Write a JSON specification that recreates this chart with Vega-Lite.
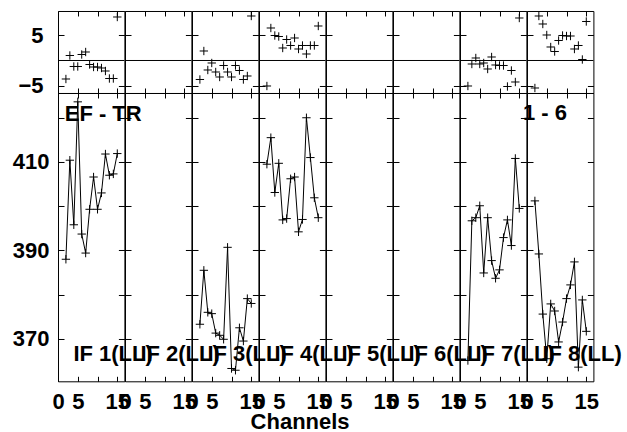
{
"$schema": "https://vega.github.io/schema/vega-lite/v6.json",
"padding": {"left": 12, "top": 9, "right": 2, "bottom": 0},
"data": {"values": [
{"if":1,"ch":2,"v":388.0,"r":-3.7},{"if":1,"ch":3,"v":410.4,"r":1.0},{"if":1,"ch":4,"v":395.8,"r":-1.2},{"if":1,"ch":5,"v":423.6,"r":-1.2},{"if":1,"ch":6,"v":393.7,"r":1.2},{"if":1,"ch":7,"v":389.4,"r":1.7},{"if":1,"ch":8,"v":399.3,"r":-0.8},{"if":1,"ch":9,"v":406.6,"r":-1.3},{"if":1,"ch":10,"v":399.3,"r":-1.3},{"if":1,"ch":11,"v":403.0,"r":-1.5},{"if":1,"ch":12,"v":411.8,"r":-2.1},{"if":1,"ch":13,"v":407.0,"r":-3.6},{"if":1,"ch":14,"v":407.3,"r":-3.6},{"if":1,"ch":15,"v":411.9,"r":8.7},
{"if":3,"ch":2,"v":373.3,"r":-3.8},{"if":3,"ch":3,"v":385.5,"r":1.9},{"if":3,"ch":4,"v":376.0,"r":-1.9},{"if":3,"ch":5,"v":375.7,"r":-0.5},{"if":3,"ch":6,"v":371.3,"r":-2.3},{"if":3,"ch":7,"v":370.8,"r":-3.3},{"if":3,"ch":8,"v":369.9,"r":-1.0},{"if":3,"ch":9,"v":390.7,"r":-2.3},{"if":3,"ch":10,"v":363.3,"r":-3.3},{"if":3,"ch":11,"v":362.9,"r":-1.0},{"if":3,"ch":12,"v":372.5,"r":-2.0},{"if":3,"ch":13,"v":369.5,"r":-3.8},{"if":3,"ch":14,"v":379.1,"r":-3.1},{"if":3,"ch":15,"v":378.0,"r":8.9},
{"if":4,"ch":2,"v":409.5,"r":-5.1},{"if":4,"ch":3,"v":415.5,"r":6.5},{"if":4,"ch":4,"v":403.1,"r":5.0},{"if":4,"ch":5,"v":409.7,"r":4.8},{"if":4,"ch":6,"v":396.9,"r":2.5},{"if":4,"ch":7,"v":397.2,"r":4.2},{"if":4,"ch":8,"v":406.2,"r":3.0},{"if":4,"ch":9,"v":406.6,"r":4.5},{"if":4,"ch":10,"v":394.2,"r":2.3},{"if":4,"ch":11,"v":397.0,"r":3.0},{"if":4,"ch":12,"v":420.0,"r":1.3},{"if":4,"ch":13,"v":411.0,"r":3.0},{"if":4,"ch":14,"v":401.9,"r":3.0},{"if":4,"ch":15,"v":397.4,"r":6.9},
{"if":7,"ch":2,"v":365.1,"r":-5.1},{"if":7,"ch":3,"v":396.7,"r":-0.7},{"if":7,"ch":4,"v":397.4,"r":0.5},{"if":7,"ch":5,"v":400.1,"r":-0.7},{"if":7,"ch":6,"v":384.9,"r":-0.5},{"if":7,"ch":7,"v":397.4,"r":-1.7},{"if":7,"ch":8,"v":387.7,"r":0.7},{"if":7,"ch":9,"v":383.7,"r":-0.9},{"if":7,"ch":10,"v":385.6,"r":-1.0},{"if":7,"ch":11,"v":392.9,"r":-1.0},{"if":7,"ch":12,"v":396.9,"r":-5.2},{"if":7,"ch":13,"v":391.1,"r":-2.0},{"if":7,"ch":14,"v":410.8,"r":-4.3},{"if":7,"ch":15,"v":399.5,"r":8.5},
{"if":8,"ch":2,"v":401.2,"r":-5.5},{"if":8,"ch":3,"v":389.2,"r":8.9},{"if":8,"ch":4,"v":375.6,"r":7.3},{"if":8,"ch":5,"v":365.5,"r":5.1},{"if":8,"ch":6,"v":377.9,"r":2.7},{"if":8,"ch":7,"v":376.3,"r":1.8},{"if":8,"ch":8,"v":369.3,"r":4.0},{"if":8,"ch":9,"v":373.8,"r":5.0},{"if":8,"ch":10,"v":379.1,"r":4.9},{"if":8,"ch":11,"v":382.2,"r":4.9},{"if":8,"ch":12,"v":387.4,"r":2.3},{"if":8,"ch":13,"v":363.6,"r":3.0},{"if":8,"ch":14,"v":378.8,"r":0.2},{"if":8,"ch":15,"v":371.7,"r":7.8}
]},
"title": {"text": "Channels", "orient": "bottom", "anchor": "middle", "font": "Liberation Sans", "fontSize": 22, "fontWeight": "bold", "color": "black", "offset": 0, "dx": -17},
"spacing": 0,
"bounds": "flush",
"hconcat": [
{"width":66.4,"height":370.3,"layer":[
 {"transform":[{"filter":"datum.if == 1"}],"mark":{"type":"point","shape":"M-1,0L1,0M0,-1L0,1","size":70,"filled":false,"color":"black","strokeWidth":1,"opacity":1},
  "encoding":{"x":{"field":"ch","type":"quantitative","scale":{"domain":[0,16.8],"nice":false,"zero":false},"axis":{"orient":"bottom","offset":-288.3,"title":null,"values":[0,5,10,15],"labels":false}},
   "y":{"field":"r","type":"quantitative","scale":{"domain":[-6.5,9.9],"range":[82,0],"nice":false,"zero":false},"axis":{"orient":"left","title":null,"values":[-5,5],"labelPadding":21}}}},
 {"data":{"values":[{}]},"mark":{"type":"rule","color":"black","strokeWidth":1},
  "encoding":{"x":{"datum":0,"type":"quantitative","axis":{"orient":"top","title":null,"values":[0,5,10,15],"labels":false}},"x2":{"datum":16.8},
   "y":{"datum":0,"type":"quantitative","scale":{"domain":[-6.5,9.9],"range":[82,0],"nice":false,"zero":false},"axis":{"orient":"right","title":null,"values":[-5,5],"labels":false}}}},
 {"transform":[{"filter":"datum.if == 1"}],"mark":{"type":"line","color":"black","strokeWidth":1},
  "encoding":{"x":{"field":"ch","type":"quantitative","axis":{"orient":"bottom","title":null,"values":[0,5,10,15],"labelExpr":"datum.value == 10 ? '' : datum.label"}},
   "y":{"field":"v","type":"quantitative","scale":{"domain":[360.4,425.6],"range":[370.3,82],"nice":false,"zero":false},"axis":{"orient":"left","title":null,"values":[370,380,390,400,410,420],"labelExpr":"datum.value % 20 == 10 ? datum.label : ''"}}}},
 {"transform":[{"filter":"datum.if == 1"}],"mark":{"type":"point","shape":"M-1,0L1,0M0,-1L0,1","size":70,"filled":false,"color":"black","strokeWidth":1,"opacity":1},
  "encoding":{"x":{"field":"ch","type":"quantitative","axis":null},"y":{"field":"v","type":"quantitative","scale":{"domain":[360.4,425.6],"range":[370.3,82],"nice":false,"zero":false},"axis":null}}},
 {"data":{"values":[{}]},"mark":{"type":"text","text":"IF 1(LL)","align":"left","baseline":"alphabetic","font":"Liberation Sans","fontSize":22,"fontWeight":"bold","color":"black"},
  "encoding":{"x":{"datum":3.9,"type":"quantitative","axis":{"orient":"top","offset":-82,"title":null,"values":[0,5,10,15],"labels":false}},
   "y":{"datum":365.1,"type":"quantitative","scale":{"domain":[360.4,425.6],"range":[370.3,82],"nice":false,"zero":false},"axis":{"orient":"right","title":null,"values":[370,380,390,400,410,420],"labels":false}}}},
 {"data":{"values":[{}]},"mark":{"type":"text","text":"EF - TR","align":"left","baseline":"alphabetic","font":"Liberation Sans","fontSize":22,"fontWeight":"bold","color":"black"},
  "encoding":{"x":{"datum":1.7,"type":"quantitative","axis":null},"y":{"datum":419.3,"type":"quantitative","scale":{"domain":[360.4,425.6],"range":[370.3,82],"nice":false,"zero":false},"axis":null}}}
],"resolve":{"scale":{"y":"independent"},"axis":{"x":"independent","y":"independent"}}},
{"width":66.4,"height":370.3,"layer":[
 {"transform":[{"filter":"datum.if == 2"}],"mark":{"type":"point","shape":"M-1,0L1,0M0,-1L0,1","size":70,"filled":false,"color":"black","strokeWidth":1,"opacity":1},
  "encoding":{"x":{"field":"ch","type":"quantitative","scale":{"domain":[0,16.8],"nice":false,"zero":false},"axis":{"orient":"bottom","offset":-288.3,"title":null,"values":[0,5,10,15],"labels":false}},
   "y":{"field":"r","type":"quantitative","scale":{"domain":[-6.5,9.9],"range":[82,0],"nice":false,"zero":false},"axis":{"orient":"left","title":null,"values":[-5,5],"labels":false}}}},
 {"data":{"values":[{}]},"mark":{"type":"rule","color":"black","strokeWidth":1},
  "encoding":{"x":{"datum":0,"type":"quantitative","axis":{"orient":"top","title":null,"values":[0,5,10,15],"labels":false}},"x2":{"datum":16.8},
   "y":{"datum":0,"type":"quantitative","scale":{"domain":[-6.5,9.9],"range":[82,0],"nice":false,"zero":false},"axis":{"orient":"right","title":null,"values":[-5,5],"labels":false}}}},
 {"transform":[{"filter":"datum.if == 2"}],"mark":{"type":"line","color":"black","strokeWidth":1},
  "encoding":{"x":{"field":"ch","type":"quantitative","axis":{"orient":"bottom","title":null,"values":[0,5,10,15],"labelExpr":"datum.value == 10 ? '' : datum.label"}},
   "y":{"field":"v","type":"quantitative","scale":{"domain":[360.4,425.6],"range":[370.3,82],"nice":false,"zero":false},"axis":{"orient":"left","title":null,"values":[370,380,390,400,410,420],"labels":false}}}},
 {"transform":[{"filter":"datum.if == 2"}],"mark":{"type":"point","shape":"M-1,0L1,0M0,-1L0,1","size":70,"filled":false,"color":"black","strokeWidth":1,"opacity":1},
  "encoding":{"x":{"field":"ch","type":"quantitative","axis":null},"y":{"field":"v","type":"quantitative","scale":{"domain":[360.4,425.6],"range":[370.3,82],"nice":false,"zero":false},"axis":null}}},
 {"data":{"values":[{}]},"mark":{"type":"text","text":"IF 2(LL)","align":"left","baseline":"alphabetic","font":"Liberation Sans","fontSize":22,"fontWeight":"bold","color":"black"},
  "encoding":{"x":{"datum":3.9,"type":"quantitative","axis":{"orient":"top","offset":-82,"title":null,"values":[0,5,10,15],"labels":false}},
   "y":{"datum":365.1,"type":"quantitative","scale":{"domain":[360.4,425.6],"range":[370.3,82],"nice":false,"zero":false},"axis":{"orient":"right","title":null,"values":[370,380,390,400,410,420],"labels":false}}}}
],"resolve":{"scale":{"y":"independent"},"axis":{"x":"independent","y":"independent"}}},
{"width":66.4,"height":370.3,"layer":[
 {"transform":[{"filter":"datum.if == 3"}],"mark":{"type":"point","shape":"M-1,0L1,0M0,-1L0,1","size":70,"filled":false,"color":"black","strokeWidth":1,"opacity":1},
  "encoding":{"x":{"field":"ch","type":"quantitative","scale":{"domain":[0,16.8],"nice":false,"zero":false},"axis":{"orient":"bottom","offset":-288.3,"title":null,"values":[0,5,10,15],"labels":false}},
   "y":{"field":"r","type":"quantitative","scale":{"domain":[-6.5,9.9],"range":[82,0],"nice":false,"zero":false},"axis":{"orient":"left","title":null,"values":[-5,5],"labels":false}}}},
 {"data":{"values":[{}]},"mark":{"type":"rule","color":"black","strokeWidth":1},
  "encoding":{"x":{"datum":0,"type":"quantitative","axis":{"orient":"top","title":null,"values":[0,5,10,15],"labels":false}},"x2":{"datum":16.8},
   "y":{"datum":0,"type":"quantitative","scale":{"domain":[-6.5,9.9],"range":[82,0],"nice":false,"zero":false},"axis":{"orient":"right","title":null,"values":[-5,5],"labels":false}}}},
 {"transform":[{"filter":"datum.if == 3"}],"mark":{"type":"line","color":"black","strokeWidth":1},
  "encoding":{"x":{"field":"ch","type":"quantitative","axis":{"orient":"bottom","title":null,"values":[0,5,10,15],"labelExpr":"datum.value == 10 ? '' : datum.label"}},
   "y":{"field":"v","type":"quantitative","scale":{"domain":[360.4,425.6],"range":[370.3,82],"nice":false,"zero":false},"axis":{"orient":"left","title":null,"values":[370,380,390,400,410,420],"labels":false}}}},
 {"transform":[{"filter":"datum.if == 3"}],"mark":{"type":"point","shape":"M-1,0L1,0M0,-1L0,1","size":70,"filled":false,"color":"black","strokeWidth":1,"opacity":1},
  "encoding":{"x":{"field":"ch","type":"quantitative","axis":null},"y":{"field":"v","type":"quantitative","scale":{"domain":[360.4,425.6],"range":[370.3,82],"nice":false,"zero":false},"axis":null}}},
 {"data":{"values":[{}]},"mark":{"type":"text","text":"IF 3(LL)","align":"left","baseline":"alphabetic","font":"Liberation Sans","fontSize":22,"fontWeight":"bold","color":"black"},
  "encoding":{"x":{"datum":3.9,"type":"quantitative","axis":{"orient":"top","offset":-82,"title":null,"values":[0,5,10,15],"labels":false}},
   "y":{"datum":365.1,"type":"quantitative","scale":{"domain":[360.4,425.6],"range":[370.3,82],"nice":false,"zero":false},"axis":{"orient":"right","title":null,"values":[370,380,390,400,410,420],"labels":false}}}}
],"resolve":{"scale":{"y":"independent"},"axis":{"x":"independent","y":"independent"}}},
{"width":66.4,"height":370.3,"layer":[
 {"transform":[{"filter":"datum.if == 4"}],"mark":{"type":"point","shape":"M-1,0L1,0M0,-1L0,1","size":70,"filled":false,"color":"black","strokeWidth":1,"opacity":1},
  "encoding":{"x":{"field":"ch","type":"quantitative","scale":{"domain":[0,16.8],"nice":false,"zero":false},"axis":{"orient":"bottom","offset":-288.3,"title":null,"values":[0,5,10,15],"labels":false}},
   "y":{"field":"r","type":"quantitative","scale":{"domain":[-6.5,9.9],"range":[82,0],"nice":false,"zero":false},"axis":{"orient":"left","title":null,"values":[-5,5],"labels":false}}}},
 {"data":{"values":[{}]},"mark":{"type":"rule","color":"black","strokeWidth":1},
  "encoding":{"x":{"datum":0,"type":"quantitative","axis":{"orient":"top","title":null,"values":[0,5,10,15],"labels":false}},"x2":{"datum":16.8},
   "y":{"datum":0,"type":"quantitative","scale":{"domain":[-6.5,9.9],"range":[82,0],"nice":false,"zero":false},"axis":{"orient":"right","title":null,"values":[-5,5],"labels":false}}}},
 {"transform":[{"filter":"datum.if == 4"}],"mark":{"type":"line","color":"black","strokeWidth":1},
  "encoding":{"x":{"field":"ch","type":"quantitative","axis":{"orient":"bottom","title":null,"values":[0,5,10,15],"labelExpr":"datum.value == 10 ? '' : datum.label"}},
   "y":{"field":"v","type":"quantitative","scale":{"domain":[360.4,425.6],"range":[370.3,82],"nice":false,"zero":false},"axis":{"orient":"left","title":null,"values":[370,380,390,400,410,420],"labels":false}}}},
 {"transform":[{"filter":"datum.if == 4"}],"mark":{"type":"point","shape":"M-1,0L1,0M0,-1L0,1","size":70,"filled":false,"color":"black","strokeWidth":1,"opacity":1},
  "encoding":{"x":{"field":"ch","type":"quantitative","axis":null},"y":{"field":"v","type":"quantitative","scale":{"domain":[360.4,425.6],"range":[370.3,82],"nice":false,"zero":false},"axis":null}}},
 {"data":{"values":[{}]},"mark":{"type":"text","text":"IF 4(LL)","align":"left","baseline":"alphabetic","font":"Liberation Sans","fontSize":22,"fontWeight":"bold","color":"black"},
  "encoding":{"x":{"datum":3.9,"type":"quantitative","axis":{"orient":"top","offset":-82,"title":null,"values":[0,5,10,15],"labels":false}},
   "y":{"datum":365.1,"type":"quantitative","scale":{"domain":[360.4,425.6],"range":[370.3,82],"nice":false,"zero":false},"axis":{"orient":"right","title":null,"values":[370,380,390,400,410,420],"labels":false}}}}
],"resolve":{"scale":{"y":"independent"},"axis":{"x":"independent","y":"independent"}}},
{"width":66.4,"height":370.3,"layer":[
 {"transform":[{"filter":"datum.if == 5"}],"mark":{"type":"point","shape":"M-1,0L1,0M0,-1L0,1","size":70,"filled":false,"color":"black","strokeWidth":1,"opacity":1},
  "encoding":{"x":{"field":"ch","type":"quantitative","scale":{"domain":[0,16.8],"nice":false,"zero":false},"axis":{"orient":"bottom","offset":-288.3,"title":null,"values":[0,5,10,15],"labels":false}},
   "y":{"field":"r","type":"quantitative","scale":{"domain":[-6.5,9.9],"range":[82,0],"nice":false,"zero":false},"axis":{"orient":"left","title":null,"values":[-5,5],"labels":false}}}},
 {"data":{"values":[{}]},"mark":{"type":"rule","color":"black","strokeWidth":1},
  "encoding":{"x":{"datum":0,"type":"quantitative","axis":{"orient":"top","title":null,"values":[0,5,10,15],"labels":false}},"x2":{"datum":16.8},
   "y":{"datum":0,"type":"quantitative","scale":{"domain":[-6.5,9.9],"range":[82,0],"nice":false,"zero":false},"axis":{"orient":"right","title":null,"values":[-5,5],"labels":false}}}},
 {"transform":[{"filter":"datum.if == 5"}],"mark":{"type":"line","color":"black","strokeWidth":1},
  "encoding":{"x":{"field":"ch","type":"quantitative","axis":{"orient":"bottom","title":null,"values":[0,5,10,15],"labelExpr":"datum.value == 10 ? '' : datum.label"}},
   "y":{"field":"v","type":"quantitative","scale":{"domain":[360.4,425.6],"range":[370.3,82],"nice":false,"zero":false},"axis":{"orient":"left","title":null,"values":[370,380,390,400,410,420],"labels":false}}}},
 {"transform":[{"filter":"datum.if == 5"}],"mark":{"type":"point","shape":"M-1,0L1,0M0,-1L0,1","size":70,"filled":false,"color":"black","strokeWidth":1,"opacity":1},
  "encoding":{"x":{"field":"ch","type":"quantitative","axis":null},"y":{"field":"v","type":"quantitative","scale":{"domain":[360.4,425.6],"range":[370.3,82],"nice":false,"zero":false},"axis":null}}},
 {"data":{"values":[{}]},"mark":{"type":"text","text":"IF 5(LL)","align":"left","baseline":"alphabetic","font":"Liberation Sans","fontSize":22,"fontWeight":"bold","color":"black"},
  "encoding":{"x":{"datum":3.9,"type":"quantitative","axis":{"orient":"top","offset":-82,"title":null,"values":[0,5,10,15],"labels":false}},
   "y":{"datum":365.1,"type":"quantitative","scale":{"domain":[360.4,425.6],"range":[370.3,82],"nice":false,"zero":false},"axis":{"orient":"right","title":null,"values":[370,380,390,400,410,420],"labels":false}}}}
],"resolve":{"scale":{"y":"independent"},"axis":{"x":"independent","y":"independent"}}},
{"width":66.4,"height":370.3,"layer":[
 {"transform":[{"filter":"datum.if == 6"}],"mark":{"type":"point","shape":"M-1,0L1,0M0,-1L0,1","size":70,"filled":false,"color":"black","strokeWidth":1,"opacity":1},
  "encoding":{"x":{"field":"ch","type":"quantitative","scale":{"domain":[0,16.8],"nice":false,"zero":false},"axis":{"orient":"bottom","offset":-288.3,"title":null,"values":[0,5,10,15],"labels":false}},
   "y":{"field":"r","type":"quantitative","scale":{"domain":[-6.5,9.9],"range":[82,0],"nice":false,"zero":false},"axis":{"orient":"left","title":null,"values":[-5,5],"labels":false}}}},
 {"data":{"values":[{}]},"mark":{"type":"rule","color":"black","strokeWidth":1},
  "encoding":{"x":{"datum":0,"type":"quantitative","axis":{"orient":"top","title":null,"values":[0,5,10,15],"labels":false}},"x2":{"datum":16.8},
   "y":{"datum":0,"type":"quantitative","scale":{"domain":[-6.5,9.9],"range":[82,0],"nice":false,"zero":false},"axis":{"orient":"right","title":null,"values":[-5,5],"labels":false}}}},
 {"transform":[{"filter":"datum.if == 6"}],"mark":{"type":"line","color":"black","strokeWidth":1},
  "encoding":{"x":{"field":"ch","type":"quantitative","axis":{"orient":"bottom","title":null,"values":[0,5,10,15],"labelExpr":"datum.value == 10 ? '' : datum.label"}},
   "y":{"field":"v","type":"quantitative","scale":{"domain":[360.4,425.6],"range":[370.3,82],"nice":false,"zero":false},"axis":{"orient":"left","title":null,"values":[370,380,390,400,410,420],"labels":false}}}},
 {"transform":[{"filter":"datum.if == 6"}],"mark":{"type":"point","shape":"M-1,0L1,0M0,-1L0,1","size":70,"filled":false,"color":"black","strokeWidth":1,"opacity":1},
  "encoding":{"x":{"field":"ch","type":"quantitative","axis":null},"y":{"field":"v","type":"quantitative","scale":{"domain":[360.4,425.6],"range":[370.3,82],"nice":false,"zero":false},"axis":null}}},
 {"data":{"values":[{}]},"mark":{"type":"text","text":"IF 6(LL)","align":"left","baseline":"alphabetic","font":"Liberation Sans","fontSize":22,"fontWeight":"bold","color":"black"},
  "encoding":{"x":{"datum":3.9,"type":"quantitative","axis":{"orient":"top","offset":-82,"title":null,"values":[0,5,10,15],"labels":false}},
   "y":{"datum":365.1,"type":"quantitative","scale":{"domain":[360.4,425.6],"range":[370.3,82],"nice":false,"zero":false},"axis":{"orient":"right","title":null,"values":[370,380,390,400,410,420],"labels":false}}}}
],"resolve":{"scale":{"y":"independent"},"axis":{"x":"independent","y":"independent"}}},
{"width":66.4,"height":370.3,"layer":[
 {"transform":[{"filter":"datum.if == 7"}],"mark":{"type":"point","shape":"M-1,0L1,0M0,-1L0,1","size":70,"filled":false,"color":"black","strokeWidth":1,"opacity":1},
  "encoding":{"x":{"field":"ch","type":"quantitative","scale":{"domain":[0,16.8],"nice":false,"zero":false},"axis":{"orient":"bottom","offset":-288.3,"title":null,"values":[0,5,10,15],"labels":false}},
   "y":{"field":"r","type":"quantitative","scale":{"domain":[-6.5,9.9],"range":[82,0],"nice":false,"zero":false},"axis":{"orient":"left","title":null,"values":[-5,5],"labels":false}}}},
 {"data":{"values":[{}]},"mark":{"type":"rule","color":"black","strokeWidth":1},
  "encoding":{"x":{"datum":0,"type":"quantitative","axis":{"orient":"top","title":null,"values":[0,5,10,15],"labels":false}},"x2":{"datum":16.8},
   "y":{"datum":0,"type":"quantitative","scale":{"domain":[-6.5,9.9],"range":[82,0],"nice":false,"zero":false},"axis":{"orient":"right","title":null,"values":[-5,5],"labels":false}}}},
 {"transform":[{"filter":"datum.if == 7"}],"mark":{"type":"line","color":"black","strokeWidth":1},
  "encoding":{"x":{"field":"ch","type":"quantitative","axis":{"orient":"bottom","title":null,"values":[0,5,10,15],"labelExpr":"datum.value == 10 ? '' : datum.label"}},
   "y":{"field":"v","type":"quantitative","scale":{"domain":[360.4,425.6],"range":[370.3,82],"nice":false,"zero":false},"axis":{"orient":"left","title":null,"values":[370,380,390,400,410,420],"labels":false}}}},
 {"transform":[{"filter":"datum.if == 7"}],"mark":{"type":"point","shape":"M-1,0L1,0M0,-1L0,1","size":70,"filled":false,"color":"black","strokeWidth":1,"opacity":1},
  "encoding":{"x":{"field":"ch","type":"quantitative","axis":null},"y":{"field":"v","type":"quantitative","scale":{"domain":[360.4,425.6],"range":[370.3,82],"nice":false,"zero":false},"axis":null}}},
 {"data":{"values":[{}]},"mark":{"type":"text","text":"IF 7(LL)","align":"left","baseline":"alphabetic","font":"Liberation Sans","fontSize":22,"fontWeight":"bold","color":"black"},
  "encoding":{"x":{"datum":3.9,"type":"quantitative","axis":{"orient":"top","offset":-82,"title":null,"values":[0,5,10,15],"labels":false}},
   "y":{"datum":365.1,"type":"quantitative","scale":{"domain":[360.4,425.6],"range":[370.3,82],"nice":false,"zero":false},"axis":{"orient":"right","title":null,"values":[370,380,390,400,410,420],"labels":false}}}}
],"resolve":{"scale":{"y":"independent"},"axis":{"x":"independent","y":"independent"}}},
{"width":66.4,"height":370.3,"layer":[
 {"transform":[{"filter":"datum.if == 8"}],"mark":{"type":"point","shape":"M-1,0L1,0M0,-1L0,1","size":70,"filled":false,"color":"black","strokeWidth":1,"opacity":1},
  "encoding":{"x":{"field":"ch","type":"quantitative","scale":{"domain":[0,16.8],"nice":false,"zero":false},"axis":{"orient":"bottom","offset":-288.3,"title":null,"values":[0,5,10,15],"labels":false}},
   "y":{"field":"r","type":"quantitative","scale":{"domain":[-6.5,9.9],"range":[82,0],"nice":false,"zero":false},"axis":{"orient":"left","title":null,"values":[-5,5],"labels":false}}}},
 {"data":{"values":[{}]},"mark":{"type":"rule","color":"black","strokeWidth":1},
  "encoding":{"x":{"datum":0,"type":"quantitative","axis":{"orient":"top","title":null,"values":[0,5,10,15],"labels":false}},"x2":{"datum":16.8},
   "y":{"datum":0,"type":"quantitative","scale":{"domain":[-6.5,9.9],"range":[82,0],"nice":false,"zero":false},"axis":{"orient":"right","title":null,"values":[-5,5],"labels":false}}}},
 {"transform":[{"filter":"datum.if == 8"}],"mark":{"type":"line","color":"black","strokeWidth":1},
  "encoding":{"x":{"field":"ch","type":"quantitative","axis":{"orient":"bottom","title":null,"values":[0,5,10,15],"labelExpr":"datum.value == 10 ? '' : datum.label"}},
   "y":{"field":"v","type":"quantitative","scale":{"domain":[360.4,425.6],"range":[370.3,82],"nice":false,"zero":false},"axis":{"orient":"left","title":null,"values":[370,380,390,400,410,420],"labels":false}}}},
 {"transform":[{"filter":"datum.if == 8"}],"mark":{"type":"point","shape":"M-1,0L1,0M0,-1L0,1","size":70,"filled":false,"color":"black","strokeWidth":1,"opacity":1},
  "encoding":{"x":{"field":"ch","type":"quantitative","axis":null},"y":{"field":"v","type":"quantitative","scale":{"domain":[360.4,425.6],"range":[370.3,82],"nice":false,"zero":false},"axis":null}}},
 {"data":{"values":[{}]},"mark":{"type":"text","text":"IF 8(LL)","align":"left","baseline":"alphabetic","font":"Liberation Sans","fontSize":22,"fontWeight":"bold","color":"black"},
  "encoding":{"x":{"datum":3.9,"type":"quantitative","axis":{"orient":"top","offset":-82,"title":null,"values":[0,5,10,15],"labels":false}},
   "y":{"datum":365.1,"type":"quantitative","scale":{"domain":[360.4,425.6],"range":[370.3,82],"nice":false,"zero":false},"axis":{"orient":"right","title":null,"values":[370,380,390,400,410,420],"labels":false}}}},
 {"data":{"values":[{}]},"mark":{"type":"text","text":"1 - 6","align":"right","baseline":"alphabetic","font":"Liberation Sans","fontSize":22,"fontWeight":"bold","color":"black"},
  "encoding":{"x":{"datum":10.1,"type":"quantitative","axis":null},"y":{"datum":419.6,"type":"quantitative","scale":{"domain":[360.4,425.6],"range":[370.3,82],"nice":false,"zero":false},"axis":null}}}
],"resolve":{"scale":{"y":"independent"},"axis":{"x":"independent","y":"independent"}}}
],
"config": {
 "view": {"stroke": null},
 "axis": {"domainColor":"black","domainWidth":1,"tickColor":"black","tickWidth":1,"labelColor":"black","labelFont":"Liberation Sans","labelFontSize":22,"labelFontWeight":"bold","grid":false,"labelFlush":false,"labelOverlap":false,"tickSize":-6,"labelPadding":15},
 "axisX": {"tickSize":-5,"labelPadding":15}
}
}
